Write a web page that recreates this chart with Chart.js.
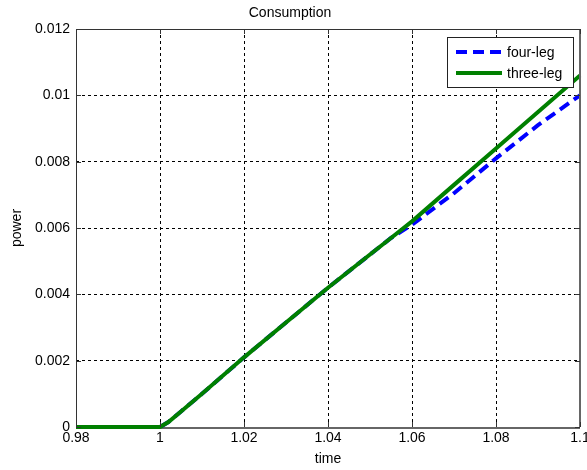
<!DOCTYPE html>
<html>
<head>
<meta charset="utf-8">
<script src="https://cdn.jsdelivr.net/npm/chart.js@4"></script>
<style>
  html, body { margin: 0; padding: 0; background: #fff; }
  canvas { display: block; }
</style>
</head>
<body>
<canvas id="consumptionChart" width="587" height="470"></canvas>
<script>
// values
var time = [0.98, 1.0, 1.002, 1.005, 1.01, 1.02, 1.03, 1.04, 1.05, 1.055, 1.06, 1.07, 1.08, 1.09, 1.1];
var threeLeg = [0, 0, 0.00015, 0.00047, 0.001, 0.0021, 0.00315, 0.0042, 0.0052, 0.0057, 0.0062, 0.0073, 0.0084, 0.0095, 0.0106];
var fourLeg = [0, 0, 0.00015, 0.00047, 0.001, 0.0021, 0.00315, 0.0042, 0.0052, 0.0057, 0.0061, 0.00705, 0.0081, 0.0091, 0.0100];
var xTicks = [0.98, 1, 1.02, 1.04, 1.06, 1.08, 1.1];
var yTicks = [0, 0.002, 0.004, 0.006, 0.008, 0.01, 0.012];

function toPoints(xs, ys) {
    var pts = [];
    for (var i = 0; i < xs.length; i++) {
        pts.push({ x: xs[i], y: ys[i] });
    }
    return pts;
}

function fmt(v) {
    return String(Math.round(v * 1000) / 1000);
}

var font = { family: 'Arial, "Liberation Sans", sans-serif', size: 14 };

// box round the axes with inward tick marks, like matlab
var framePlugin = {
    id: 'frame',
    beforeDatasetsDraw: function (chart) {
        var ctx = chart.ctx;
        var a = chart.chartArea;
        ctx.save();
        ctx.strokeStyle = '#666';
        ctx.lineWidth = 2;
        ctx.beginPath();
        ctx.moveTo(a.left, a.bottom + 1);
        ctx.lineTo(a.right, a.bottom + 1);
        ctx.stroke();
        ctx.restore();
    },
    afterDatasetsDraw: function (chart) {
        var ctx = chart.ctx;
        var a = chart.chartArea;
        var xs = chart.scales.x, ys = chart.scales.y;
        ctx.save();
        ctx.strokeStyle = '#333';
        ctx.lineWidth = 1;
        ctx.beginPath();
        ctx.moveTo(a.left + 0.5, a.bottom);
        ctx.lineTo(a.left + 0.5, a.top + 0.5);
        ctx.lineTo(a.right, a.top + 0.5);
        ctx.stroke();
        ctx.strokeStyle = '#666';
        ctx.lineWidth = 2;
        ctx.beginPath();
        ctx.moveTo(a.right, a.bottom);
        ctx.lineTo(a.right, a.top);
        ctx.stroke();
        ctx.strokeStyle = '#333';
        ctx.lineWidth = 1;
        ctx.beginPath();
        xTicks.forEach(function (v) {
            var px = Math.round(xs.getPixelForValue(v)) + 0.5;
            ctx.moveTo(px, a.bottom); ctx.lineTo(px, a.bottom - 5);
            ctx.moveTo(px, a.top); ctx.lineTo(px, a.top + 5);
        });
        yTicks.forEach(function (v) {
            var py = Math.round(ys.getPixelForValue(v)) + 0.5;
            ctx.moveTo(a.left, py); ctx.lineTo(a.left + 5, py);
            ctx.moveTo(a.right, py); ctx.lineTo(a.right - 5, py);
        });
        ctx.stroke();
        ctx.restore();
    }
};

// legend box inside the plot, top right
var boxLegendPlugin = {
    id: 'boxLegend',
    afterDraw: function (chart) {
        var ctx = chart.ctx;
        var a = chart.chartArea;
        var x0 = a.right - 133, y0 = a.top + 8, w = 126, h = 50;
        ctx.save();
        ctx.fillStyle = '#fff';
        ctx.fillRect(x0, y0, w, h);
        ctx.strokeStyle = '#222';
        ctx.lineWidth = 1;
        ctx.strokeRect(x0 + 0.5, y0 + 0.5, w, h);
        ctx.font = font.size + 'px ' + font.family;
        ctx.textBaseline = 'middle';
        ctx.fillStyle = '#000';
        chart.data.datasets.forEach(function (ds, i) {
            var ly = y0 + 15 + i * 21;
            ctx.strokeStyle = ds.borderColor;
            ctx.lineWidth = ds.borderWidth;
            ctx.setLineDash(ds.borderDash || []);
            ctx.beginPath();
            ctx.moveTo(x0 + 9, ly);
            ctx.lineTo(x0 + 55, ly);
            ctx.stroke();
            ctx.setLineDash([]);
            ctx.fillText(ds.label, x0 + 60, ly + 1);
        });
        ctx.restore();
    }
};

var ctx = document.getElementById('consumptionChart').getContext('2d');

var consumptionChart = new Chart(ctx, {
    type: 'line',
    data: {
        datasets: [{
            label: 'four-leg',
            data: toPoints(time, fourLeg),
            borderColor: '#0000ff',
            borderWidth: 4,
            borderDash: [11, 6],
            pointRadius: 0,
            fill: false,
            clip: false,
            order: 1
        }, {
            label: 'three-leg',
            data: toPoints(time, threeLeg),
            borderColor: '#008000',
            borderWidth: 4,
            pointRadius: 0,
            fill: false,
            clip: false,
            order: 0
        }]
    },
    options: {
        responsive: false,
        animation: false,
        parsing: false,
        layout: { padding: { left: 0, right: 7, top: 0, bottom: 0 } },
        plugins: {
            legend: { display: false },
            tooltip: { enabled: false },
            title: {
                display: true,
                text: 'Consumption',
                color: '#000',
                font: { family: font.family, size: 14, weight: 'normal' },
                padding: { top: 5, bottom: 7.2 }
            }
        },
        scales: {
            x: {
                type: 'linear',
                min: 0.98,
                max: 1.1,
                afterBuildTicks: function (scale) {
                    scale.ticks = xTicks.map(function (v) { return { value: v }; });
                },
                afterFit: function (scale) {
                    scale.height = 43;
                    scale.paddingLeft = 0;
                    scale.paddingRight = 0;
                },
                ticks: {
                    color: '#000',
                    font: font,
                    padding: 3,
                    maxRotation: 0,
                    autoSkip: false,
                    callback: function (v) { return fmt(v); }
                },
                grid: { color: '#000', lineWidth: 1, drawTicks: false },
                border: { display: false, dash: [3, 3] },
                title: {
                    display: true,
                    text: 'time',
                    color: '#000',
                    font: font,
                    padding: { top: 0, bottom: 2 }
                }
            },
            y: {
                type: 'linear',
                min: 0,
                max: 0.012,
                afterBuildTicks: function (scale) {
                    scale.ticks = yTicks.map(function (v) { return { value: v }; });
                },
                afterFit: function (scale) {
                    scale.width = 76;
                    scale.paddingTop = 0;
                    scale.paddingBottom = 0;
                },
                ticks: {
                    color: '#000',
                    font: font,
                    padding: 6,
                    autoSkip: false,
                    callback: function (v) { return fmt(v); }
                },
                grid: { color: '#000', lineWidth: 1, drawTicks: false },
                border: { display: false, dash: [3, 3] },
                title: {
                    display: true,
                    text: 'power',
                    color: '#000',
                    font: font,
                    padding: { top: 9, bottom: 0 }
                }
            }
        }
    },
    plugins: [framePlugin, boxLegendPlugin]
});
</script>
</body>
</html>
